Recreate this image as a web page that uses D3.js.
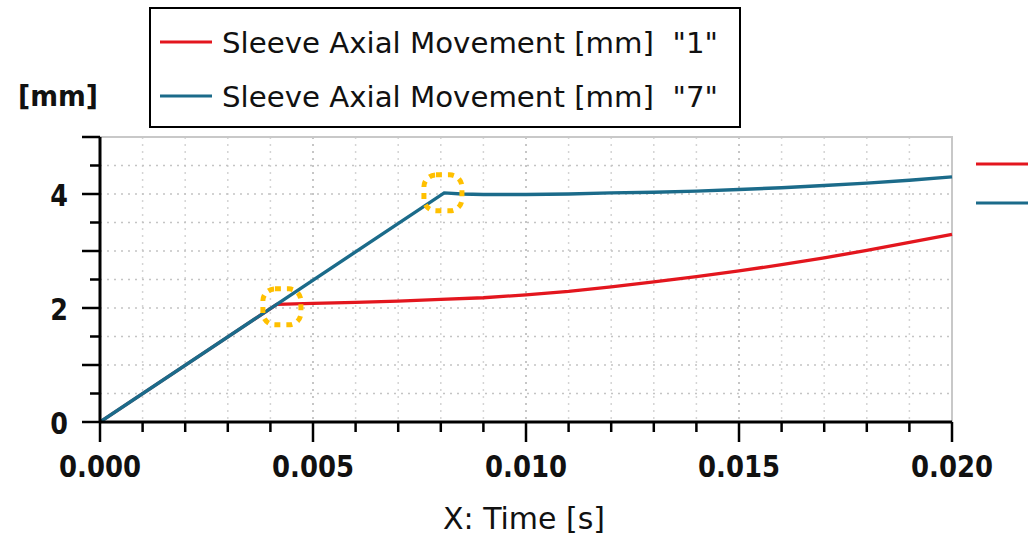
<!DOCTYPE html>
<html>
<head>
<meta charset="utf-8">
<script src="https://cdn.jsdelivr.net/npm/d3@7"></script>
<style>
  body { margin: 0; background: #fff; }
  text { font-family: "DejaVu Sans", Verdana, sans-serif; white-space: pre; fill: #111; }
</style>
</head>
<body>
<svg width="1034" height="537"></svg>
<script>
// data
var redTime  = [0, 0.00415, 0.005, 0.006, 0.007, 0.008, 0.009, 0.010, 0.011, 0.012, 0.013, 0.014, 0.015, 0.016, 0.017, 0.018, 0.019, 0.020];
var redValue = [0, 2.065, 2.08, 2.10, 2.12, 2.15, 2.18, 2.23, 2.29, 2.37, 2.46, 2.55, 2.65, 2.76, 2.88, 3.01, 3.15, 3.29];

var blueTime  = [0, 0.00808, 0.0085, 0.009, 0.010, 0.011, 0.012, 0.013, 0.014, 0.015, 0.016, 0.017, 0.018, 0.019, 0.020];
var blueValue = [0, 4.02, 4.00, 3.99, 3.99, 4.00, 4.02, 4.03, 4.05, 4.08, 4.11, 4.15, 4.19, 4.24, 4.30];

var seriesNames = ['Sleeve Axial Movement [mm]  "1"', 'Sleeve Axial Movement [mm]  "7"'];
var seriesColors = ["#e3161e", "#1b6b8a"];

var xTickLabels = [0, 0.005, 0.010, 0.015, 0.020];
var yTickLabels = [0, 2, 4];

// the two highlighted points (yellow dotted markers)
var markTime  = [0.00427, 0.00805];
var markValue = [2.02, 4.02];

var svg = d3.select("svg"),
  width = +svg.attr("width"),
  height = +svg.attr("height");

var margin = {left: 100, right: 82, top: 137, bottom: 115};
var x = d3.scaleLinear().domain([0, 0.02]).range([margin.left, width - margin.right]);
var y = d3.scaleLinear().domain([0, 5]).range([height - margin.bottom, margin.top]);

// squeeze text horizontally, the original font is narrower than DejaVu
function squeeze(sel, k) {
  sel.each(function() {
    var w = this.getComputedTextLength();
    d3.select(this).attr("textLength", w * k).attr("lengthAdjust", "spacingAndGlyphs");
  });
}

// grid
var grid = svg.append("g");
grid.selectAll(".vg")
  .data(d3.range(1, 20).map(function(i) { return i / 1000; }))
  .enter().append("line")
    .attr("x1", function(d) { return x(d); })
    .attr("x2", function(d) { return x(d); })
    .attr("y1", y(5)).attr("y2", y(0))
    .attr("stroke", function(d, i) { return (i + 1) % 5 == 0 ? "#b4b4b4" : "#d4d4d4"; })
    .attr("stroke-width", 1.5)
    .attr("stroke-dasharray", "2 5");
grid.selectAll(".hg")
  .data(d3.range(1, 10).map(function(i) { return i / 2; }))
  .enter().append("line")
    .attr("x1", x(0)).attr("x2", x(0.02))
    .attr("y1", function(d) { return y(d); })
    .attr("y2", function(d) { return y(d); })
    .attr("stroke", "#c4c4c4")
    .attr("stroke-width", 1.5)
    .attr("stroke-dasharray", "2 5");

// frame top / right
svg.append("path")
  .attr("d", "M" + x(0) + "," + y(5) + "H" + x(0.02) + "V" + y(0))
  .attr("fill", "none")
  .attr("stroke", "#c8c8c8")
  .attr("stroke-width", 2);

// lines
var line = d3.line()
  .x(function(d) { return x(d[0]); })
  .y(function(d) { return y(d[1]); });

var redData = d3.zip(redTime, redValue);
var blueData = d3.zip(blueTime, blueValue);

svg.append("path").datum(redData)
  .attr("d", line).attr("fill", "none")
  .attr("stroke", seriesColors[0]).attr("stroke-width", 3.3);
svg.append("path").datum(blueData)
  .attr("d", line).attr("fill", "none")
  .attr("stroke", seriesColors[1]).attr("stroke-width", 3.4);

// markers
svg.selectAll(".mark")
  .data(d3.zip(markTime, markValue))
  .enter().append("rect")
    .attr("x", function(d) { return x(d[0]) - 19; })
    .attr("y", function(d) { return y(d[1]) - 18; })
    .attr("width", 38).attr("height", 36)
    .attr("rx", 12)
    .attr("fill", "none")
    .attr("stroke", "#ffc000")
    .attr("stroke-width", 5)
    .attr("stroke-dasharray", "6 6");

// x axis
var xAxis = svg.append("g").attr("transform", "translate(0," + y(0) + ")");
xAxis.append("line")
  .attr("x1", x(0)).attr("x2", x(0.02))
  .attr("stroke", "#000").attr("stroke-width", 3);
xAxis.selectAll(".xt")
  .data(d3.range(0, 21).map(function(i) { return i / 1000; }))
  .enter().append("line")
    .attr("x1", function(d) { return x(d); })
    .attr("x2", function(d) { return x(d); })
    .attr("y1", 0)
    .attr("y2", function(d, i) { return i % 5 == 0 ? 20 : 10; })
    .attr("stroke", "#000").attr("stroke-width", 2.5);
xAxis.selectAll(".xl")
  .data(xTickLabels)
  .enter().append("text")
    .attr("x", function(d) { return x(d); })
    .attr("y", 55)
    .attr("text-anchor", "middle")
    .attr("font-weight", "bold")
    .attr("font-size", 31)
    .attr("textLength", 82)
    .attr("lengthAdjust", "spacingAndGlyphs")
    .text(function(d) { return d3.format(".3f")(d); });

svg.append("text")
  .attr("x", 524).attr("y", 529)
  .attr("text-anchor", "middle")
  .attr("font-size", 30)
  .attr("textLength", 162)
  .attr("lengthAdjust", "spacingAndGlyphs")
  .text("X: Time [s]");

// y axis
var yAxis = svg.append("g").attr("transform", "translate(" + x(0) + ",0)");
yAxis.append("line")
  .attr("y1", y(5)).attr("y2", y(0))
  .attr("stroke", "#000").attr("stroke-width", 3);
yAxis.selectAll(".yt")
  .data(d3.range(0, 11).map(function(i) { return i / 2; }))
  .enter().append("line")
    .attr("x1", function(d) { return d % 1 == 0 ? -18 : -10; })
    .attr("x2", 0)
    .attr("y1", function(d) { return y(d); })
    .attr("y2", function(d) { return y(d); })
    .attr("stroke", "#000").attr("stroke-width", 2.5);
yAxis.selectAll(".yl")
  .data(yTickLabels)
  .enter().append("text")
    .attr("x", -32)
    .attr("y", function(d) { return y(d) + 12; })
    .attr("text-anchor", "end")
    .attr("font-weight", "bold")
    .attr("font-size", 31)
    .text(function(d) { return d; })
    .call(squeeze, 0.82);

svg.append("text")
  .attr("x", 18).attr("y", 106)
  .attr("font-weight", "bold")
  .attr("font-size", 29)
  .attr("textLength", 80)
  .attr("lengthAdjust", "spacingAndGlyphs")
  .text("[mm]");

// legend box
var legend = svg.append("g");
legend.append("rect")
  .attr("x", 150).attr("y", 8)
  .attr("width", 590).attr("height", 119)
  .attr("fill", "#fff")
  .attr("stroke", "#000").attr("stroke-width", 2);
legend.selectAll(".li")
  .data(seriesNames)
  .enter().append("g")
    .attr("transform", function(d, i) { return "translate(160," + (42 + i * 54) + ")"; })
    .each(function(d, i) {
      var g = d3.select(this);
      g.append("line").attr("x1", 0).attr("x2", 52)
        .attr("stroke", seriesColors[i]).attr("stroke-width", 3.2);
      g.append("text").attr("x", 62).attr("y", 11)
        .attr("font-size", 28)
        .attr("textLength", 496)
        .attr("lengthAdjust", "spacingAndGlyphs")
        .text(d);
    });

// right hand legend stubs
svg.selectAll(".stub")
  .data(seriesColors)
  .enter().append("line")
    .attr("x1", 976).attr("x2", 1028)
    .attr("y1", function(d, i) { return 164 + i * 39; })
    .attr("y2", function(d, i) { return 164 + i * 39; })
    .attr("stroke", function(d) { return d; })
    .attr("stroke-width", 3.2);
</script>
</body>
</html>
